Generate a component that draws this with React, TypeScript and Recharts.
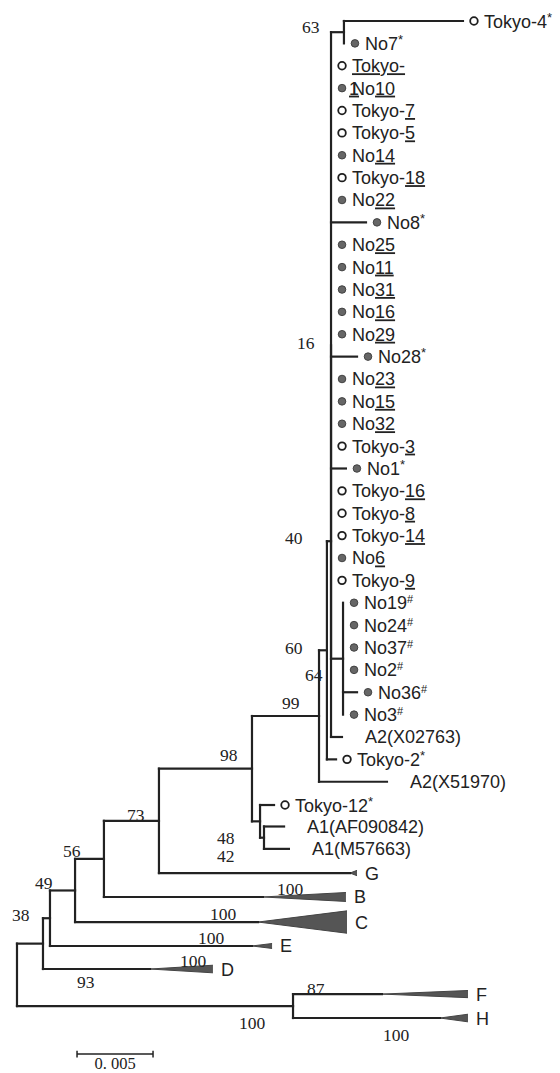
import React from 'react';
import { ComposedChart, XAxis, YAxis, ReferenceLine, Scatter, Area } from 'recharts';

// Horizontal unit: 0.001 substitutions per site from the root. Vertical unit: leaf slot (row).
const depthDomain: [number, number] = [-1.118, 35.724];
const rowDomain: [number, number] = [-0.9386, 47.017];

type Kind = 'filled' | 'open' | 'none';

// leaves: [name, parent node, tip depth, row, marker]
const leafTable: [string, string, number, number, Kind][] = [
  ['Tokyo-4*', 'nT4', 29.34, 0, 'open'],
  ['No7*', 'nT4', 21.51, 1, 'filled'],
  ['Tokyo-1', 'P', 20.66, 2, 'open'],
  ['No10', 'P', 20.66, 3, 'filled'],
  ['Tokyo-7', 'P', 20.66, 4, 'open'],
  ['Tokyo-5', 'P', 20.66, 5, 'open'],
  ['No14', 'P', 20.66, 6, 'filled'],
  ['Tokyo-18', 'P', 20.66, 7, 'open'],
  ['No22', 'P', 20.66, 8, 'filled'],
  ['No8*', 'P', 22.96, 9, 'filled'],
  ['No25', 'P', 20.66, 10, 'filled'],
  ['No11', 'P', 20.66, 11, 'filled'],
  ['No31', 'P', 20.66, 12, 'filled'],
  ['No16', 'P', 20.66, 13, 'filled'],
  ['No29', 'P', 20.66, 14, 'filled'],
  ['No28*', 'P', 22.37, 15, 'filled'],
  ['No23', 'P', 20.66, 16, 'filled'],
  ['No15', 'P', 20.66, 17, 'filled'],
  ['No32', 'P', 20.66, 18, 'filled'],
  ['Tokyo-3', 'P', 20.66, 19, 'open'],
  ['No1*', 'P', 21.64, 20, 'filled'],
  ['Tokyo-16', 'P', 20.66, 21, 'open'],
  ['Tokyo-8', 'P', 20.66, 22, 'open'],
  ['Tokyo-14', 'P', 20.66, 23, 'open'],
  ['No6', 'P', 20.66, 24, 'filled'],
  ['Tokyo-9', 'P', 20.66, 25, 'open'],
  ['No19#', 'nHash', 21.45, 26, 'filled'],
  ['No24#', 'nHash', 21.45, 27, 'filled'],
  ['No37#', 'nHash', 21.45, 28, 'filled'],
  ['No2#', 'nHash', 21.45, 29, 'filled'],
  ['No36#', 'nHash', 22.37, 30, 'filled'],
  ['No3#', 'nHash', 21.45, 31, 'filled'],
  ['A2(X02763)', 'n40', 21.38, 32, 'none'],
  ['Tokyo-2*', 'n64', 20.99, 33, 'open'],
  ['A2(X51970)', 'n60', 24.34, 34, 'none'],
  ['Tokyo-12*', 'n48', 16.91, 35.04, 'open'],
  ['A1(AF090842)', 'n42', 17.57, 36.0, 'none'],
  ['A1(M57663)', 'n42', 17.89, 37.0, 'none'],
];

// collapsed clades: [name, parent node, apex depth, end depth, row, half spread (rows)]
const cladeTable: [string, string, number, number, number, number][] = [
  ['G', 'n98', 21.91, 22.37, 38.08, 0.12],
  ['B', 'n73', 16.18, 21.64, 39.15, 0.2],
  ['C', 'n56', 15.86, 21.71, 40.27, 0.5],
  ['E', 'n49', 15.46, 16.78, 41.34, 0.11],
  ['D', 'n38', 8.75, 12.89, 42.37, 0.17],
  ['F', 'nFH', 24.01, 29.67, 43.49, 0.16],
  ['H', 'nFH', 27.83, 29.67, 44.56, 0.17],
];

// internal nodes: [id, parent, depth]
const nodeTable: [string, string | null, number][] = [
  ['root', null, 0],
  ['n38', 'root', 1.71],
  ['nFH', 'root', 18.16],
  ['n49', 'n38', 2.17],
  ['n56', 'n49', 3.82],
  ['n73', 'n56', 5.72],
  ['n98', 'n73', 9.34],
  ['n99', 'n98', 15.46],
  ['n48', 'n99', 15.99],
  ['n42', 'n48', 16.25],
  ['n60', 'n99', 19.87],
  ['n64', 'n60', 20.39],
  ['n40', 'n64', 20.66],
  ['P', 'n40', 20.66],
  ['nT4', 'P', 21.51],
  ['nHash', 'P', 21.45],
];

// bootstrap values: [node or clade, value]
const supportTable: [string, number][] = [
  ['nT4', 63], ['P', 16], ['n40', 40], ['n64', 60], ['nHash', 64], ['n60', 99],
  ['n99', 98], ['n98', 73], ['n48', 48], ['n42', 42], ['n73', 56], ['n56', 49],
  ['n49', 38], ['n38', 93], ['B', 100], ['C', 100], ['E', 100], ['D', 100],
  ['F', 87], ['nFH', 100], ['H', 100],
];

const scaleBarStart = 3.95;
const scaleBarLength = 5; // 0.005
const scaleBarRow = 46.17;
const scaleBarLabel = '0. 005';

// ---------- layout / style (pixels) ----------
const labelOffsets: Record<string, [number, number]> = {
  nT4: [-42, -5], P: [-34, -2], n40: [-46, -3], n64: [-42, -2], nHash: [-38, 16],
  n60: [-37, -13], n99: [-32, -14], n98: [-32, -6], n48: [-43, 17], n42: [-47, 18.5],
  n73: [-41, -8], n56: [-40, -7], n49: [-38, -3], n38: [34, 38], B: [14, -8],
  C: [-48, -8], E: [-54, -8], D: [30, -8], F: [-75, -5], nFH: [-54, 17], H: [-57, 17],
};
const INK = '#222222';
const SANS = "'Liberation Sans', Arial, sans-serif";
const SERIF = "'Liberation Serif', 'Times New Roman', serif";
const ROW_PX = 22.375;

// ---------- derived structures ----------
const leaves = leafTable.map(([name, parent, depth, row, kind]) => ({ name, parent, depth, row, kind }));
const clades = cladeTable.map(([name, parent, apex, end, row, spread]) => ({ name, parent, apex, end, row, spread }));
const nodes = nodeTable.map(([id, parent, depth]) => ({ id, parent, depth }));
const depthOf: Record<string, number> = {};
nodes.forEach((n) => (depthOf[n.id] = n.depth));

const childrenOf = (id: string): string[] => [
  ...leaves.filter((l) => l.parent === id).map((l) => l.name),
  ...clades.filter((c) => c.parent === id).map((c) => c.name),
  ...nodes.filter((n) => n.parent === id).map((n) => n.id),
];
const rowOf = (id: string): number => {
  const l = leaves.find((x) => x.name === id);
  if (l) return l.row;
  const c = clades.find((x) => x.name === id);
  if (c) return c.row;
  const kids = childrenOf(id).map(rowOf);
  return (Math.min(...kids) + Math.max(...kids)) / 2;
};

type Seg = { x1: number; y1: number; x2: number; y2: number };
const segments: Seg[] = [];
leaves.forEach((l) => {
  const p = depthOf[l.parent];
  if (l.depth > p) segments.push({ x1: p, y1: l.row, x2: l.depth, y2: l.row });
});
clades.forEach((c) => segments.push({ x1: depthOf[c.parent], y1: c.row, x2: c.apex, y2: c.row }));
nodes.forEach((n) => {
  const r = rowOf(n.id);
  if (n.parent && n.depth > depthOf[n.parent]) segments.push({ x1: depthOf[n.parent], y1: r, x2: n.depth, y2: r });
  const kids = childrenOf(n.id).map(rowOf);
  segments.push({ x1: n.depth, y1: Math.min(...kids), x2: n.depth, y2: Math.max(...kids) });
});

const leafPoints = leaves.map((l) => ({ x: l.depth, row: l.row, name: l.name, kind: l.kind }));
const cladeLabelPoints = clades.map((c) => ({ x: c.end, row: c.row, name: c.name }));
const supportPoints = supportTable.map(([at, value]) => {
  const c = clades.find((x) => x.name === at);
  const x = c ? c.apex : depthOf[at];
  const [dx, dy] = labelOffsets[at] || [0, 0];
  return { x, row: rowOf(at), value, dx, dy };
});
const scaleLabelPoint = [{ x: scaleBarStart + scaleBarLength / 2, row: scaleBarRow, label: scaleBarLabel }];

// ---------- shapes ----------
const LeafMark = (props: any) => {
  const { cx, cy, payload } = props;
  if (cx == null || cy == null) return null;
  const kind: Kind = payload.kind;
  const name: string = payload.name;
  const tx = cx + (kind === 'none' ? 23 : 21);
  const ty = cy + 6.5;
  const m = name.match(/^(Tokyo-|No)(\d+)([*#]?)$/);
  let content: React.ReactNode = name;
  if (name === 'Tokyo-1') {
    content = [
      <tspan key="a" textDecoration="underline">Tokyo-</tspan>,
      <tspan key="b" x={tx - 3} dy={ROW_PX} textDecoration="underline">1</tspan>,
    ];
  } else if (m && !m[3]) {
    content = [<tspan key="a">{m[1]}</tspan>, <tspan key="b" textDecoration="underline">{m[2]}</tspan>];
  } else if (m && m[3]) {
    content = [
      <tspan key="a">{m[1] + m[2]}</tspan>,
      <tspan key="b" fontSize={m[3] === '#' ? 11 : 13} dy={-6}>{m[3]}</tspan>,
    ];
  }
  return (
    <g>
      {kind !== 'none' && (
        <circle
          cx={cx + 11}
          cy={cy}
          r={3.8}
          fill={kind === 'filled' ? '#666666' : '#ffffff'}
          stroke={kind === 'filled' ? '#3a3a3a' : '#1e1e1e'}
          strokeWidth={kind === 'filled' ? 0.9 : 1.8}
        />
      )}
      <text x={tx} y={ty} fontFamily={SANS} fontSize={18} fill={INK}>
        {content}
      </text>
    </g>
  );
};

const CladeLabel = (props: any) => {
  const { cx, cy, payload } = props;
  if (cx == null) return null;
  return (
    <text x={cx + 8} y={cy + 6.5} fontFamily={SANS} fontSize={18} fill={INK}>
      {payload.name}
    </text>
  );
};

const SupportLabel = (props: any) => {
  const { cx, cy, payload } = props;
  if (cx == null) return null;
  return (
    <text x={cx + payload.dx} y={cy + payload.dy + 6} fontFamily={SERIF} fontSize={17.5} fill={INK}>
      {payload.value}
    </text>
  );
};

const ScaleLabel = (props: any) => {
  const { cx, cy, payload } = props;
  if (cx == null) return null;
  return (
    <text x={cx} y={cy + 15} textAnchor="middle" fontFamily={SERIF} fontSize={16.5} fill={INK}>
      {payload.label}
    </text>
  );
};

export default function App() {
  return (
    <div style={{ position: 'absolute', left: 0, top: 0, width: 560, height: 1073, background: '#fff' }}>
      <ComposedChart width={560} height={1073} margin={{ top: 0, right: 0, bottom: 0, left: 0 }}>
        <XAxis type="number" dataKey="x" domain={depthDomain} allowDataOverflow hide />
        <YAxis type="number" dataKey="row" domain={rowDomain} allowDataOverflow reversed hide />
        {segments.map((s, i) => (
          <ReferenceLine
            key={'s' + i}
            segment={[{ x: s.x1, y: s.y1 }, { x: s.x2, y: s.y2 }]}
            stroke={INK}
            strokeWidth={2.2}
            strokeLinecap="square"
            ifOverflow="visible"
          />
        ))}
        <ReferenceLine
          segment={[{ x: scaleBarStart, y: scaleBarRow }, { x: scaleBarStart + scaleBarLength, y: scaleBarRow }]}
          stroke={INK}
          strokeWidth={1.5}
          ifOverflow="visible"
        />
        <ReferenceLine
          segment={[{ x: scaleBarStart, y: scaleBarRow - 0.15 }, { x: scaleBarStart, y: scaleBarRow + 0.15 }]}
          stroke={INK}
          strokeWidth={1.5}
          ifOverflow="visible"
        />
        <ReferenceLine
          segment={[
            { x: scaleBarStart + scaleBarLength, y: scaleBarRow - 0.15 },
            { x: scaleBarStart + scaleBarLength, y: scaleBarRow + 0.15 },
          ]}
          stroke={INK}
          strokeWidth={1.5}
          ifOverflow="visible"
        />
        {clades.map((c) => (
          <Area
            key={'tri' + c.name}
            data={[
              { x: c.apex, band: [c.row, c.row] },
              { x: c.end, band: [c.row - c.spread, c.row + c.spread] },
            ]}
            dataKey="band"
            type="linear"
            stroke="#444444"
            strokeWidth={1}
            fill="#555555"
            fillOpacity={1}
            dot={false}
            activeDot={false}
            isAnimationActive={false}
          />
        ))}
        <Scatter data={leafPoints} shape={LeafMark} isAnimationActive={false} />
        <Scatter data={cladeLabelPoints} shape={CladeLabel} isAnimationActive={false} />
        <Scatter data={supportPoints} shape={SupportLabel} isAnimationActive={false} />
        <Scatter data={scaleLabelPoint} shape={ScaleLabel} isAnimationActive={false} />
      </ComposedChart>
    </div>
  );
}
